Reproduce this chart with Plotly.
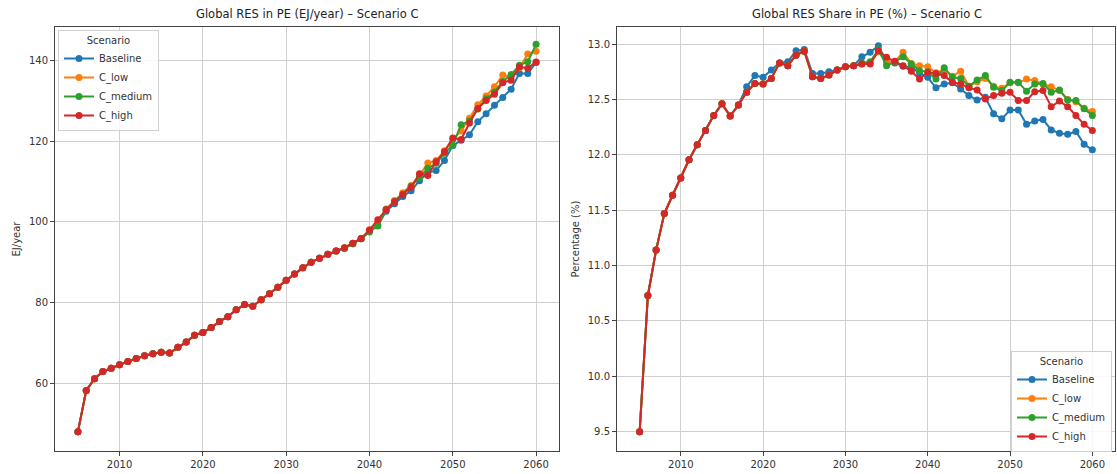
import plotly.graph_objects as go

years = list(range(2005, 2061))

# ---- Left chart: Global RES in PE (EJ/year) ----
pe_common = [48.0, 58.2, 61.1, 62.9, 63.7, 64.6, 65.4, 66.1, 66.8, 67.3, 67.7, 67.5, 68.9, 70.2,
             71.9, 72.6, 73.8, 75.3, 76.5, 78.2, 79.5, 79.1, 80.7, 82.2, 83.8, 85.5, 87.1, 88.6,
             90.0, 91.0, 92.0, 92.8]  # 2005-2036
pe_baseline_tail = [93.4, 94.6, 95.8, 97.8, 99.2, 102.6, 104.5, 106.3, 107.7, 110.2, 112.2, 112.7,
                    115.2, 118.9, 120.2, 121.6, 124.8, 126.8, 128.9, 130.8, 132.9, 136.8, 136.8, 139.5]
pe_low_tail = [93.6, 94.7, 95.9, 98.0, 100.0, 103.2, 105.3, 107.2, 109.0, 111.5, 114.6, 115.2,
               117.6, 120.5, 122.5, 125.7, 129.0, 131.2, 133.5, 136.4, 136.0, 138.2, 141.6, 142.3]
pe_medium_tail = [93.5, 94.6, 95.8, 97.5, 99.0, 103.0, 105.0, 106.8, 108.8, 111.0, 113.3, 114.5,
                  117.0, 119.0, 124.1, 125.0, 128.0, 130.5, 132.2, 134.8, 136.5, 138.8, 139.7, 144.0]
pe_high_tail = [93.6, 94.7, 95.9, 98.0, 100.5, 103.0, 105.0, 106.8, 108.6, 111.9, 111.5, 114.9,
                117.4, 120.8, 120.4, 124.5, 128.1, 130.1, 131.6, 134.5, 135.1, 138.4, 138.1, 139.6]

pe_baseline = pe_common + pe_baseline_tail
pe_low = pe_common + pe_low_tail
pe_medium = pe_common + pe_medium_tail
pe_high = pe_common + pe_high_tail

# ---- Right chart: Global RES Share in PE (%) ----
sh_common = [9.50, 10.73, 11.14, 11.47, 11.635, 11.79, 11.955, 12.09, 12.22, 12.355, 12.46, 12.35,
             12.45, 12.565, 12.645, 12.64, 12.69, 12.83, 12.805, 12.90, 12.935, 12.705, 12.69,
             12.72, 12.765, 12.795, 12.805]  # 2005-2031
sh_base_head = [9.50, 10.73, 11.14, 11.47, 11.635, 11.79, 11.955, 12.09, 12.22, 12.355, 12.46, 12.35,
                12.45, 12.615, 12.715, 12.70, 12.765, 12.83, 12.84, 12.94, 12.95, 12.735, 12.735,
                12.75, 12.765, 12.795, 12.805]
sh_baseline_tail = [12.885, 12.925, 12.985, 12.84, 12.83, 12.80, 12.79, 12.74, 12.70, 12.605, 12.64,
                    12.65, 12.595, 12.535, 12.495, 12.52, 12.37, 12.325, 12.405, 12.405, 12.275,
                    12.305, 12.32, 12.225, 12.195, 12.185, 12.21, 12.095, 12.045]
sh_low_tail = [12.82, 12.83, 12.93, 12.84, 12.84, 12.925, 12.825, 12.805, 12.795, 12.74, 12.77,
               12.71, 12.755, 12.62, 12.66, 12.69, 12.62, 12.60, 12.65, 12.65, 12.685, 12.67,
               12.64, 12.615, 12.58, 12.50, 12.48, 12.42, 12.39]
sh_medium_tail = [12.83, 12.84, 12.95, 12.805, 12.84, 12.885, 12.82, 12.76, 12.75, 12.685, 12.785,
                  12.70, 12.69, 12.62, 12.675, 12.715, 12.61, 12.58, 12.655, 12.655, 12.575, 12.64,
                  12.645, 12.565, 12.585, 12.495, 12.49, 12.415, 12.355]
sh_high_tail = [12.82, 12.82, 12.94, 12.88, 12.845, 12.805, 12.755, 12.685, 12.745, 12.735, 12.715,
                12.655, 12.64, 12.605, 12.585, 12.505, 12.535, 12.555, 12.565, 12.49, 12.49, 12.57,
                12.58, 12.435, 12.485, 12.435, 12.355, 12.275, 12.22]

sh_baseline = sh_base_head + sh_baseline_tail
sh_low = sh_common + sh_low_tail
sh_medium = sh_common + sh_medium_tail
sh_high = sh_common + sh_high_tail

scenarios = ["Baseline", "C_low", "C_medium", "C_high"]
colors = ["#1f77b4", "#ff7f0e", "#2ca02c", "#d62728"]
left_series = [pe_baseline, pe_low, pe_medium, pe_high]
right_series = [sh_baseline, sh_low, sh_medium, sh_high]

W, H = 1117, 474
FONT = "DejaVu Sans"

fig = go.Figure()
for name, col, ys in zip(scenarios, colors, left_series):
    fig.add_trace(go.Scatter(x=years, y=ys, name=name, mode="lines+markers",
                             line=dict(color=col, width=2), marker=dict(color=col, size=7),
                             xaxis="x", yaxis="y", legend="legend"))
for name, col, ys in zip(scenarios, colors, right_series):
    fig.add_trace(go.Scatter(x=years, y=ys, name=name, mode="lines+markers",
                             line=dict(color=col, width=2), marker=dict(color=col, size=7),
                             xaxis="x2", yaxis="y2", legend="legend2"))

def px_x(p):
    return p / W

def px_y(p):
    return 1 - p / H

axis_common = dict(showgrid=True, gridcolor="#d0d0d0", gridwidth=1, showline=True, mirror=True,
                   linecolor="#444444", linewidth=1, ticks="outside", ticklen=4, tickcolor="#444444",
                   tickfont=dict(family=FONT, size=10, color="#333333"), zeroline=False)

legend_common = dict(bgcolor="rgba(255,255,255,0.85)", bordercolor="#d0d0d0", borderwidth=1,
                     font=dict(family=FONT, size=10, color="#333333"),
                     title=dict(text="Scenario", side="top center",
                                font=dict(family=FONT, size=10, color="#333333")),
                     itemwidth=30, tracegroupgap=0)

fig.update_layout(
    width=W, height=H,
    margin=dict(l=0, r=0, t=0, b=0),
    paper_bgcolor="white", plot_bgcolor="white",
    font=dict(family=FONT, size=10, color="#333333"),
    xaxis=dict(domain=[px_x(55), px_x(559)], range=[2002.25, 2062.75], anchor="y",
               tickvals=[2010, 2020, 2030, 2040, 2050, 2060], **axis_common),
    yaxis=dict(domain=[px_y(451), px_y(27)], range=[43.2, 148.3], anchor="x",
               tickvals=[60, 80, 100, 120, 140],
               title=dict(text="EJ/year", font=dict(family=FONT, size=10, color="#333333"), standoff=6),
               **axis_common),
    xaxis2=dict(domain=[px_x(617), px_x(1115)], range=[2002.25, 2062.75], anchor="y2",
                tickvals=[2010, 2020, 2030, 2040, 2050, 2060], **axis_common),
    yaxis2=dict(domain=[px_y(451), px_y(27)], range=[9.326, 13.154], anchor="x2",
                tickvals=[9.5, 10.0, 10.5, 11.0, 11.5, 12.0, 12.5, 13.0], tickformat=".1f",
                title=dict(text="Percentage (%)", font=dict(family=FONT, size=10, color="#333333"), standoff=6),
                **axis_common),
    legend=dict(x=px_x(58), y=px_y(30), xanchor="left", yanchor="top", **legend_common),
    legend2=dict(x=px_x(1112), y=px_y(452), xanchor="right", yanchor="bottom", **legend_common),
    annotations=[
        dict(text="Global RES in PE (EJ/year) – Scenario C", x=px_x(307), y=px_y(14),
             xref="paper", yref="paper", showarrow=False, xanchor="center", yanchor="middle",
             font=dict(family=FONT, size=11.5, color="#222222")),
        dict(text="Global RES Share in PE (%) – Scenario C", x=px_x(867), y=px_y(14),
             xref="paper", yref="paper", showarrow=False, xanchor="center", yanchor="middle",
             font=dict(family=FONT, size=11.5, color="#222222")),
    ],
)

fig.write_html("out.html", config={"displayModeBar": False},
               post_script="document.body.style.margin='0';document.body.style.padding='0';"
                           "document.body.style.overflow='hidden';")
